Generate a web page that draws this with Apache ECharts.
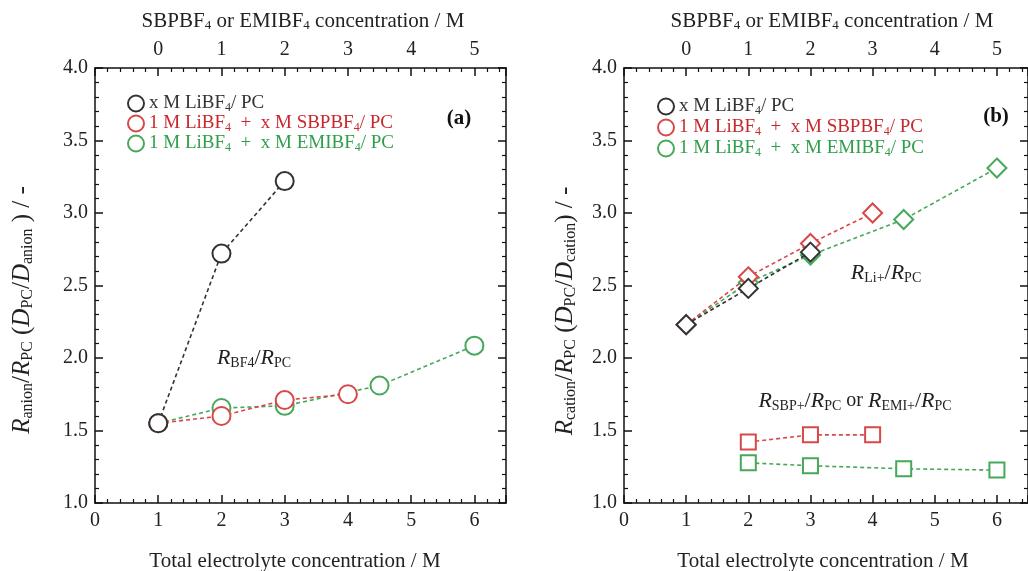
<!DOCTYPE html>
<html>
<head>
<meta charset="utf-8">
<script src="https://cdn.jsdelivr.net/npm/echarts@6/dist/echarts.min.js"></script>
<style>
html,body{margin:0;padding:0;background:#fff;}
#chart{width:1028px;height:571px;}
</style>
</head>
<body>
<div id="chart"></div>
<script>
// ---- data ----
const legendNames = ['x M LiBF4/ PC', '1 M LiBF4 + x M SBPBF4/ PC', '1 M LiBF4 + x M EMIBF4/ PC'];
const bottomTicks = [0, 1, 2, 3, 4, 5, 6];
const topTicks = [0, 1, 2, 3, 4, 5];
const yTicks = [1.0, 1.5, 2.0, 2.5, 3.0, 3.5, 4.0];

// panel (a): R_anion / R_PC
const aLiX = [1, 2, 3];
const aLiY = [1.55, 2.72, 3.22];
const aSbpX = [1, 2, 3, 4];
const aSbpY = [1.55, 1.60, 1.71, 1.75];
const aEmiX = [1, 2, 3, 4.5, 6];
const aEmiY = [1.55, 1.655, 1.67, 1.81, 2.085];

// panel (b): R_cation / R_PC  (Li+ diamonds)
const bLiX = [1, 2, 3];
const bLiY = [2.23, 2.48, 2.73];
const bSbpLiX = [1, 2, 3, 4];
const bSbpLiY = [2.23, 2.56, 2.79, 3.00];
const bEmiLiX = [1, 2, 3, 4.5, 6];
const bEmiLiY = [2.23, 2.52, 2.71, 2.955, 3.31];
// panel (b): SBP+ / EMI+ squares
const bSbpX = [2, 3, 4];
const bSbpY = [1.42, 1.47, 1.47];
const bEmiX = [2, 3, 4.5, 6];
const bEmiY = [1.277, 1.257, 1.236, 1.227];

// ---- styles ----
const BLACK = '#333333', RED = '#d94848', GREEN = '#45a85a';
const RED_TXT = '#c8282d', GREEN_TXT = '#2f9e4a';
const FONT = '"Liberation Serif", "Times New Roman", serif';
const zip = (xs, ys) => xs.map((x, i) => [x, ys[i]]);

const chart = echarts.init(document.getElementById('chart'), null, {renderer: 'canvas'});

const gridBox = [
  {left: 95, top: 68, width: 411, height: 435},
  {left: 624, top: 68, width: 411, height: 435}
];

const tickCommon = {
  axisLine: {show: true, onZero: false, lineStyle: {color: '#111', width: 1.5}},
  axisTick: {show: true, inside: true, length: 8, lineStyle: {color: '#111', width: 1.5}},
  minorTick: {show: true, splitNumber: 5, length: 4, lineStyle: {color: '#111', width: 1.2}},
  splitLine: {show: false}
};

function bottomAxis(g) {
  return Object.assign({
    type: 'value', gridIndex: g, position: 'bottom', min: 0, max: 6.5, interval: 1,
    axisLabel: {show: true, margin: 8, fontFamily: FONT, fontSize: 20, color: '#222', showMaxLabel: false,
      formatter: v => bottomTicks.includes(v) ? String(v) : ''}
  }, tickCommon);
}
function topAxis(g) {
  return Object.assign({
    type: 'value', gridIndex: g, position: 'top', min: -1, max: 5.5, interval: 1,
    axisLabel: {show: true, margin: 8, fontFamily: FONT, fontSize: 20, color: '#222', showMaxLabel: false, showMinLabel: false,
      formatter: v => topTicks.includes(v) ? String(v) : ''}
  }, tickCommon);
}
function leftAxis(g) {
  return Object.assign({
    type: 'value', gridIndex: g, position: 'left', min: 1, max: 4, interval: 0.5,
    axisLabel: {show: true, margin: 7, fontFamily: FONT, fontSize: 20, color: '#222',
      formatter: v => yTicks.some(t => Math.abs(t - v) < 1e-9) ? v.toFixed(1) : ''}
  }, tickCommon);
}
function rightAxis(g) {
  return Object.assign({
    type: 'value', gridIndex: g, position: 'right', min: 1, max: 4, interval: 0.5,
    axisLabel: {show: false}
  }, tickCommon);
}

function lineSeries(name, xAxisIndex, yAxisIndex, xs, ys, color, symbol, size, z) {
  return {
    name: name, type: 'line', xAxisIndex: xAxisIndex, yAxisIndex: yAxisIndex,
    data: zip(xs, ys), symbol: symbol, symbolSize: size, showAllSymbol: true,
    lineStyle: {color: color, width: 1.6, type: [4, 3]},
    itemStyle: {color: color, borderColor: color, borderWidth: 1.2},
    emphasis: {disabled: true}, animation: false, z: z
  };
}

// axes: xAxis 0 = bottom a, 1 = top a, 2 = bottom b, 3 = top b ; yAxis 0 = left a, 1 = right a, 2 = left b, 3 = right b
const xAxes = [bottomAxis(0), topAxis(0), bottomAxis(1), topAxis(1)];
const yAxes = [leftAxis(0), rightAxis(0), leftAxis(1), rightAxis(1)];

const series = [
  lineSeries(legendNames[2], 0, 0, aEmiX, aEmiY, GREEN, 'emptyCircle', 18, 2),
  lineSeries(legendNames[1], 0, 0, aSbpX, aSbpY, RED, 'emptyCircle', 18, 3),
  lineSeries(legendNames[0], 0, 0, aLiX, aLiY, BLACK, 'emptyCircle', 18, 4),
  lineSeries(legendNames[1], 2, 2, bSbpX, bSbpY, RED, 'emptyRect', 15, 2),
  lineSeries(legendNames[2], 2, 2, bEmiX, bEmiY, GREEN, 'emptyRect', 15, 2),
  lineSeries(legendNames[2], 2, 2, bEmiLiX, bEmiLiY, GREEN, 'emptyDiamond', 19, 2),
  lineSeries(legendNames[1], 2, 2, bSbpLiX, bSbpLiY, RED, 'emptyDiamond', 19, 3),
  lineSeries(legendNames[0], 2, 2, bLiX, bLiY, BLACK, 'emptyDiamond', 19, 4)
];

const legendTextColors = [BLACK, RED_TXT, GREEN_TXT];
const legendKeys = ['k', 'r', 'g'];
function legendRich() {
  const r = {};
  legendTextColors.forEach((c, i) => {
    r['n' + legendKeys[i]] = {fontFamily: FONT, fontSize: 19, color: c};
    r['s' + legendKeys[i]] = {fontFamily: FONT, fontSize: 12, color: c, padding: [9, 0, 0, 0]};
  });
  return r;
}
function legendFormatter(name) {
  const k = legendKeys[legendNames.indexOf(name)];
  const text = name.replace(' + ', '  +  ');
  return text.split('BF4').map(p => '{n' + k + '|' + p + '}').join('{n' + k + '|BF}{s' + k + '|4}');
}
function legend(left, top, gap) {
  return {
    left: left, top: top, orient: 'vertical', itemGap: gap, itemWidth: 16, itemHeight: 16,
    icon: 'emptyCircle', selectedMode: false,
    data: legendNames.map(n => ({name: n, icon: 'emptyCircle', itemStyle: {borderWidth: 1.2}})),
    formatter: legendFormatter,
    textStyle: {fontFamily: FONT, fontSize: 19, rich: legendRich()}
  };
}

function rt(x, y, text, rich, extra) {
  return Object.assign({type: 'text', x: x, y: y, silent: true,
    style: {text: text, fontFamily: FONT, fontSize: 21, fill: '#222', align: 'center', verticalAlign: 'middle', rich: rich}}, extra || {});
}
function richSet(color, big, small, drop) {
  return {
    R: {fontFamily: FONT, fontStyle: 'italic', fontSize: big, color: color},
    n: {fontFamily: FONT, fontSize: big, color: color},
    s: {fontFamily: FONT, fontSize: small, color: color, padding: [drop, 0, 0, 0]}
  };
}
const axisRich = richSet('#222', 25, 16, 11);
const annotRich = richSet('#222', 22, 14, 10);
const mixRich = {
  Rr: {fontFamily: FONT, fontStyle: 'italic', fontSize: 22, color: RED_TXT},
  sr: {fontFamily: FONT, fontSize: 14, color: RED_TXT, padding: [10, 0, 0, 0]},
  nr: {fontFamily: FONT, fontSize: 22, color: RED_TXT},
  Rg: {fontFamily: FONT, fontStyle: 'italic', fontSize: 22, color: GREEN_TXT},
  sg: {fontFamily: FONT, fontSize: 14, color: GREEN_TXT, padding: [10, 0, 0, 0]},
  ng: {fontFamily: FONT, fontSize: 22, color: GREEN_TXT},
  k: {fontFamily: FONT, fontSize: 20, color: '#222'}
};
const topTitleRich = {
  n: {fontFamily: FONT, fontSize: 21, color: '#222'},
  s: {fontFamily: FONT, fontSize: 13, color: '#222', padding: [10, 0, 0, 0]}
};
const topTitle = '{n|SBPBF}{s|4}{n| or EMIBF}{s|4}{n| concentration / M}';

const boldStyle = t => ({style: {text: t, fontFamily: FONT, fontSize: 21, fontWeight: 'bold', fill: '#111', align: 'center', verticalAlign: 'middle'}});

const graphics = [
  rt(303, 21, topTitle, topTitleRich),
  rt(832, 21, topTitle, topTitleRich),
  rt(295, 561, 'Total electrolyte concentration / M', {}),
  rt(823, 561, 'Total electrolyte concentration / M', {}),
  rt(22, 310, '{R|R}{s|anion}{n|/}{R|R}{s|PC}{n| (}{R|D}{s|PC}{n|/}{R|D}{s|anion}{n| ) / -}', axisRich, {rotation: Math.PI / 2}),
  rt(565, 311, '{R|R}{s|cation}{n|/}{R|R}{s|PC}{n| (}{R|D}{s|PC}{n|/}{R|D}{s|cation}{n|) / -}', axisRich, {rotation: Math.PI / 2}),
  rt(459, 119, '(a)', {}, boldStyle('(a)')),
  rt(996, 117, '(b)', {}, boldStyle('(b)')),
  rt(254, 358, '{R|R}{s|BF4}{n|/}{R|R}{s|PC}', annotRich),
  rt(886, 273, '{R|R}{s|Li+}{n|/}{R|R}{s|PC}', annotRich),
  rt(855, 401, '{Rr|R}{sr|SBP+}{nr|/}{Rr|R}{sr|PC}{k| or }{Rg|R}{sg|EMI+}{ng|/}{Rg|R}{sg|PC}', mixRich)
];

const option = {
  backgroundColor: '#ffffff',
  animation: false,
  grid: gridBox,
  xAxis: xAxes,
  yAxis: yAxes,
  legend: [legend(122, 89, 0), legend(652, 92, 1)],
  series: series,
  graphic: graphics
};
chart.setOption(option);
</script>
</body>
</html>
